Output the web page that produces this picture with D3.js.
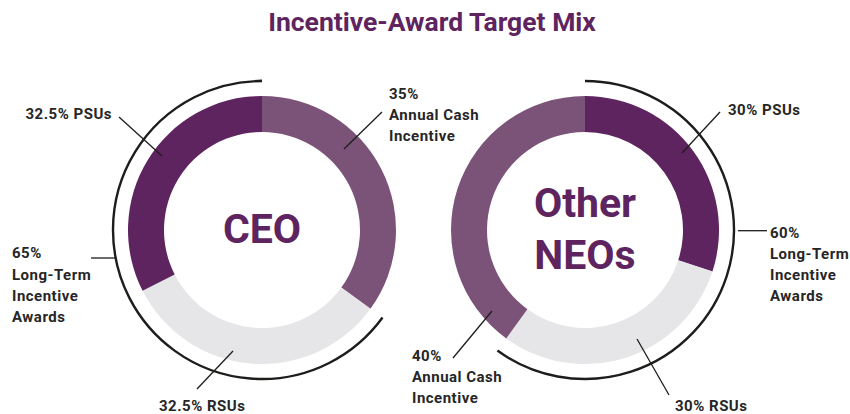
<!DOCTYPE html>
<html>
<head>
<meta charset="utf-8">
<script src="https://cdn.jsdelivr.net/npm/d3@7"></script>
<style>
  body { margin: 0; background: #fff; }
  text { font-family: Roboto, "Noto Sans", sans-serif; font-weight: 700; }
  .label { font-size: 15px; letter-spacing: 0.5px; fill: #262626; }
  .center { font-size: 41px; fill: #5e2460; }
  .title { font-size: 26.5px; fill: #5e2460; }
</style>
</head>
<body>
<div id="chart"></div>
<script>
// Data
var ceoCategories = ["Annual Cash Incentive", "RSUs", "PSUs"];
var ceoValues = [35, 32.5, 32.5];
var neoCategories = ["PSUs", "RSUs", "Annual Cash Incentive"];
var neoValues = [30, 30, 40];
var ltiShare = [65, 60];
var ceoLabels = [["35%", "Annual Cash", "Incentive"], ["32.5% RSUs"], ["32.5% PSUs"]];
var neoLabels = [["30% PSUs"], ["30% RSUs"], ["40%", "Annual Cash", "Incentive"]];
var ltiLabels = [
  ["65%", "Long-Term", "Incentive", "Awards"],
  ["60%", "Long-Term", "Incentive", "Awards"]
];

// Set up Chart
var svgWidth = 850;
var svgHeight = 414;
var innerRadius = 98;
var outerRadius = 134;
var bracketRadius = 149;
var lineHeight = 21.3;

var colors = {
  "PSUs": "#5e2460",
  "Annual Cash Incentive": "#7b5278",
  "RSUs": "#e6e6e8"
};

// leader lines, relative to donut center: [x1, y1, x2, y2, textX, textY, anchor]
var ceoLeaders = [
  [82, -81, 120, -118, 127, -131.5, "start"],
  [-29, 121, -65, 159, -103, 181, "start"],
  [-100, -74, -143, -113, -150, -111, "end"]
];
var neoLeaders = [
  [97, -77, 135, -118, 143, -115, "start"],
  [52, 109, 84, 165, 90, 181, "start"],
  [-93, 81, -132, 128, -173, 130.5, "start"]
];
var ltiLeaders = [
  [-171, 28, -146, 28, -250, 28.3],
  [153, 0.7, 182, 0.7, 185, 7.5]
];

var svg = d3.select("#chart")
  .append("svg")
  .attr("width", svgWidth)
  .attr("height", svgHeight);

svg.append("text")
  .attr("class", "title")
  .attr("x", 432)
  .attr("y", 31)
  .attr("text-anchor", "middle")
  .text("Incentive-Award Target Mix");

var pie = d3.pie().sort(null).value(d => d);
var arc = d3.arc().innerRadius(innerRadius).outerRadius(outerRadius);
var bracketArc = d3.arc().innerRadius(bracketRadius).outerRadius(bracketRadius);

function drawDonut(cx, cy, categories, values, labels, leaders, ltiCats, ltiLabel, ltiLeader, centerLines) {
  var g = svg.append("g").attr("transform", `translate(${cx}, ${cy})`);
  var arcs = pie(values);

  g.selectAll("path.slice")
    .data(arcs)
    .enter()
    .append("path")
    .attr("class", "slice")
    .attr("d", arc)
    .attr("fill", (d, i) => colors[categories[i]]);

  // bracket over the long-term incentive slices
  var lti = arcs.filter((d, i) => ltiCats.indexOf(categories[i]) >= 0);
  var bStart = d3.min(lti, d => d.startAngle);
  var bEnd = d3.max(lti, d => d.endAngle);
  g.append("path")
    .attr("d", bracketArc({ startAngle: bStart, endAngle: bEnd }))
    .attr("fill", "none")
    .attr("stroke", "#1d1d1b")
    .attr("stroke-width", 2.4);

  g.append("line")
    .attr("x1", ltiLeader[0]).attr("y1", ltiLeader[1])
    .attr("x2", ltiLeader[2]).attr("y2", ltiLeader[3])
    .attr("stroke", "#1d1d1b")
    .attr("stroke-width", 1.3);

  var ltiText = g.append("text")
    .attr("class", "label")
    .attr("x", ltiLeader[4])
    .attr("y", ltiLeader[5]);
  ltiText.selectAll("tspan")
    .data(ltiLabel)
    .enter()
    .append("tspan")
    .attr("x", ltiLeader[4])
    .attr("dy", (d, i) => i === 0 ? 0 : lineHeight)
    .text(d => d);

  // slice leaders and labels
  leaders.forEach(function(l, i) {
    g.append("line")
      .attr("x1", l[0]).attr("y1", l[1])
      .attr("x2", l[2]).attr("y2", l[3])
      .attr("stroke", "#1d1d1b")
      .attr("stroke-width", 1.3);

    var t = g.append("text")
      .attr("class", "label")
      .attr("text-anchor", l[6])
      .attr("x", l[4])
      .attr("y", l[5]);
    t.selectAll("tspan")
      .data(labels[i])
      .enter()
      .append("tspan")
      .attr("x", l[4])
      .attr("dy", (d, j) => j === 0 ? 0 : lineHeight)
      .text(d => d);
  });

  // center title
  var c = g.append("text")
    .attr("class", "center")
    .attr("text-anchor", "middle");
  c.selectAll("tspan")
    .data(centerLines)
    .enter()
    .append("tspan")
    .attr("x", 0)
    .attr("y", (d, i) => centerLines.length === 1 ? 13 : -13 + i * 51.5)
    .text(d => d);
}

drawDonut(262, 230, ceoCategories, ceoValues, ceoLabels, ceoLeaders,
  ["RSUs", "PSUs"], ltiLabels[0], ltiLeaders[0], ["CEO"]);
drawDonut(585, 230, neoCategories, neoValues, neoLabels, neoLeaders,
  ["PSUs", "RSUs"], ltiLabels[1], ltiLeaders[1], ["Other", "NEOs"]);
</script>
</body>
</html>
